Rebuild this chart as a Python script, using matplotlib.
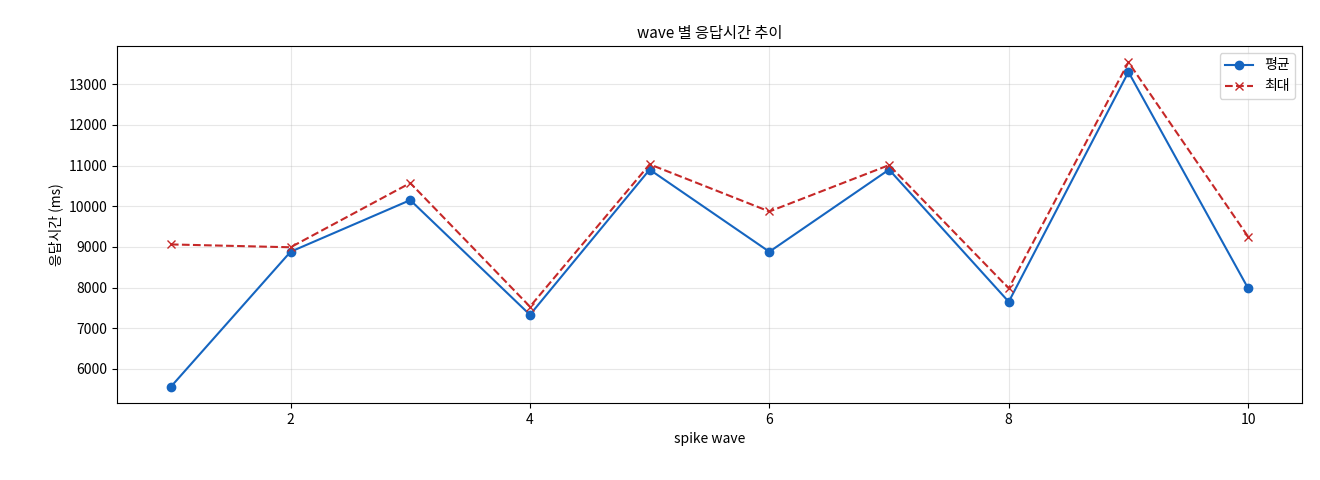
import matplotlib
matplotlib.use("Agg")
import matplotlib.pyplot as plt

plt.rcParams['font.family'] = ['Noto Sans CJK KR', 'DejaVu Sans']

waves = [1, 2, 3, 4, 5, 6, 7, 8, 9, 10]
avg = [5560, 8880, 10150, 7330, 10900, 8880, 10900, 7650, 13300, 7980]
mx = [9060, 8990, 10570, 7530, 11030, 9870, 11010, 7980, 13540, 9250]

fig = plt.figure(figsize=(13.2, 4.8), dpi=100)
ax = fig.add_axes([117/1320, 1-403/480, (1302-117)/1320, (403-46)/480])
ax.plot(waves, avg, '-o', color='#1565c0', label='평균', markersize=6)
ax.plot(waves, mx, '--x', color='#c62828', label='최대', markersize=6)
ax.set_title('wave 별 응답시간 추이', fontsize=11)
ax.set_xlabel('spike wave', fontsize=10)
ax.set_ylabel('응답시간 (ms)', fontsize=10)
ax.grid(True, alpha=0.3)
ax.legend(loc='upper right')
fig.savefig('out.png', dpi=100)
